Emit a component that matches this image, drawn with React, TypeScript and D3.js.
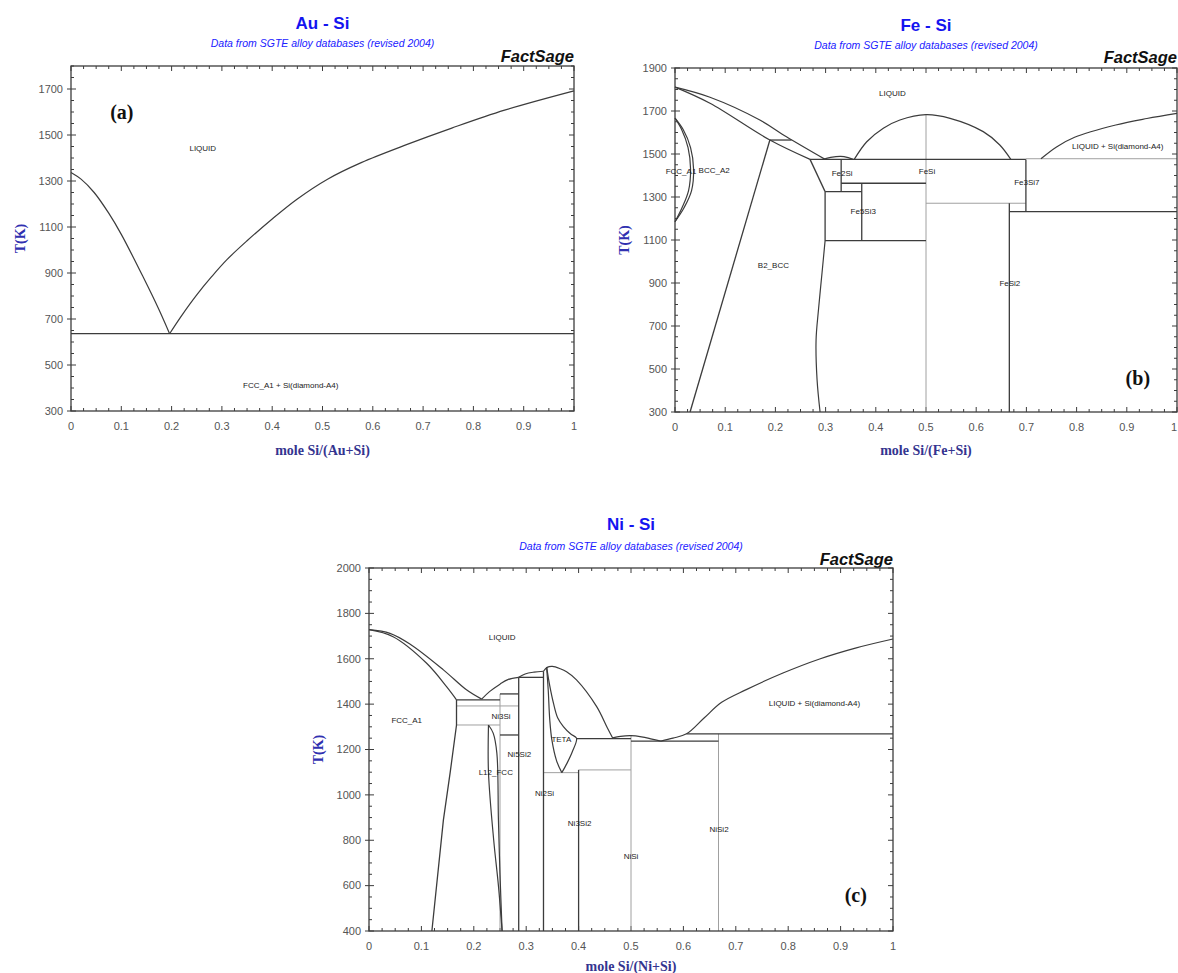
import React, { useEffect, useRef } from "react";
import * as d3 from "d3";

type Pt = [number, number];

// ==========================
// Au - Si  (a)
// ==========================
const auTTicks = [300, 500, 700, 900, 1100, 1300, 1500, 1700];
const auLiquidusLeft: Pt[] = [[0, 1337], [0.02, 1308], [0.046, 1250], [0.075, 1160], [0.1, 1068], [0.144, 880], [0.175, 740], [0.196, 636]];
const auLiquidusRight: Pt[] = [[0.196, 636], [0.22, 715], [0.25, 805], [0.28, 885], [0.31, 958], [0.35, 1040], [0.4, 1135], [0.45, 1222], [0.51, 1308], [0.577, 1380], [0.667, 1458], [0.757, 1530], [0.862, 1608], [1, 1692]];
const auEutectic: Pt[] = [[0, 636], [1, 636]];
const auLabels = [
    { text: "LIQUID", x: 0.262, t: 1443 },
    { text: "FCC_A1 + Si(diamond-A4)", x: 0.437, t: 413 }
];

// ==========================
// Fe - Si  (b)
// ==========================
const feTTicks = [300, 500, 700, 900, 1100, 1300, 1500, 1700, 1900];
const feLiquidus: Pt[] = [[0, 1811], [0.0697, 1764], [0.169, 1658], [0.222, 1580], [0.299, 1475]];
const feSolidus: Pt[] = [[0, 1811], [0.0697, 1736], [0.189, 1565], [0.269, 1475]];
const feGammaOuter: Pt[] = [[0, 1667], [0.016, 1615], [0.031, 1530], [0.037, 1430], [0.033, 1330], [0.018, 1250], [0, 1185]];
const feGammaInner: Pt[] = [[0, 1667], [0.013, 1615], [0.026, 1530], [0.031, 1430], [0.027, 1330], [0.014, 1250], [0, 1185]];
const feB2Line: Pt[] = [[0.03, 300], [0.189, 1565]];
const feB2Top: Pt[] = [[0.189, 1565], [0.232, 1565]];
const feB2Right: Pt[] = [[0.299, 1097], [0.293, 950], [0.286, 780], [0.281, 634], [0.283, 450], [0.289, 300]];
const feFe2SiBump: Pt[] = [[0.295, 1475], [0.31, 1484], [0.33, 1489], [0.345, 1483], [0.355, 1475]];
const feFeSiDome: Pt[] = [[0.357, 1475], [0.382, 1557], [0.415, 1620], [0.448, 1658], [0.5, 1683], [0.548, 1666], [0.614, 1604], [0.647, 1542], [0.669, 1475]];
const feSiLiquidus: Pt[] = [[0.729, 1478], [0.76, 1533], [0.796, 1578], [0.878, 1635], [0.94, 1665], [1, 1689]];
const feSegmentsDark: Pt[][] = [
    [[0.269, 1475], [0.299, 1325]],
    [[0.269, 1475], [0.699, 1475]],
    [[0.331, 1475], [0.331, 1325]],
    [[0.299, 1325], [0.372, 1325]],
    [[0.331, 1364], [0.5, 1364]],
    [[0.372, 1364], [0.372, 1097]],
    [[0.299, 1325], [0.299, 1097]],
    [[0.299, 1097], [0.5, 1097]],
    [[0.699, 1475], [0.699, 1232]],
    [[0.666, 1232], [1, 1232]],
    [[0.666, 1271], [0.666, 300]]
];
const feSegmentsLight: Pt[][] = [
    [[0.699, 1478], [1, 1478]],
    [[0.5, 1271], [0.699, 1271]],
    [[0.5, 1683], [0.5, 300]]
];
const feLabels = [
    { text: "LIQUID", x: 0.433, t: 1785 },
    { text: "FCC_A1", x: 0.012, t: 1418 },
    { text: "BCC_A2", x: 0.078, t: 1423 },
    { text: "Fe2Si", x: 0.333, t: 1413 },
    { text: "FeSi", x: 0.502, t: 1421 },
    { text: "Fe3Si7", x: 0.701, t: 1367 },
    { text: "Fe5Si3", x: 0.375, t: 1233 },
    { text: "B2_BCC", x: 0.196, t: 981 },
    { text: "FeSi2", x: 0.667, t: 901 },
    { text: "LIQUID + Si(diamond-A4)", x: 0.882, t: 1537 }
];

// ==========================
// Ni - Si  (c)
// ==========================
const niTTicks = [400, 600, 800, 1000, 1200, 1400, 1600, 1800, 2000];
const niLiquidusLeft: Pt[] = [[0, 1728], [0.04, 1712], [0.078, 1665], [0.142, 1551], [0.186, 1463], [0.215, 1422]];
const niSolidus: Pt[] = [[0, 1728], [0.046, 1697], [0.11, 1580], [0.148, 1477], [0.167, 1419]];
const niLiquidusNi5Si2: Pt[] = [[0.215, 1422], [0.23, 1455], [0.25, 1488], [0.265, 1508], [0.2857, 1518]];
const niNi2SiBump: Pt[] = [[0.2857, 1518], [0.298, 1533], [0.315, 1541], [0.333, 1545]];
const niDome: Pt[] = [[0.333, 1545], [0.34, 1562], [0.35, 1566], [0.365, 1556], [0.377, 1543], [0.396, 1507], [0.4345, 1389], [0.455, 1295], [0.465, 1251]];
const niNiSiDome: Pt[] = [[0.465, 1251], [0.48, 1258], [0.5, 1261], [0.52, 1256], [0.54, 1246], [0.557, 1237]];
const niLiquidusRight: Pt[] = [[0.557, 1237], [0.58, 1250], [0.606, 1269], [0.64, 1340], [0.673, 1408], [0.72, 1464], [0.79, 1537], [0.86, 1599], [0.93, 1648], [1, 1687]];
const niFccSolvus: Pt[] = [[0.167, 1419], [0.167, 1308], [0.155, 1100], [0.142, 890], [0.12, 400]];
const niL12Left: Pt[] = [[0.228, 1308], [0.228, 1100], [0.238, 800], [0.247, 600], [0.254, 400]];
const niL12Right: Pt[] = [[0.228, 1308], [0.237, 1272], [0.244, 1184], [0.247, 890], [0.25, 650], [0.254, 400]];
const niTetaLeft: Pt[] = [[0.339, 1563], [0.342, 1463], [0.345, 1330], [0.349, 1242], [0.358, 1150], [0.368, 1098]];
const niTetaRight: Pt[] = [[0.339, 1563], [0.345, 1480], [0.352, 1404], [0.36, 1340], [0.371, 1301], [0.385, 1268], [0.396, 1250], [0.388, 1190], [0.378, 1140], [0.368, 1098]];
const niSegmentsDark: Pt[][] = [
    [[0.167, 1419], [0.25, 1419]],
    [[0.25, 1445], [0.2857, 1445]],
    [[0.25, 1264], [0.2857, 1264]],
    [[0.2857, 1518], [0.2857, 400]],
    [[0.2857, 1518], [0.333, 1518]],
    [[0.333, 1545], [0.333, 400]],
    [[0.4, 1110], [0.4, 400]],
    [[0.396, 1248], [0.5, 1248]],
    [[0.5, 1237], [0.667, 1237]],
    [[0.606, 1269], [1, 1269]]
];
const niSegmentsLight: Pt[][] = [
    [[0.167, 1392], [0.2857, 1392]],
    [[0.167, 1308], [0.25, 1308]],
    [[0.25, 1445], [0.25, 400]],
    [[0.333, 1098], [0.4, 1098]],
    [[0.4, 1110], [0.5, 1110]],
    [[0.5, 1261], [0.5, 400]],
    [[0.667, 1269], [0.667, 400]]
];
const niLabels = [
    { text: "LIQUID", x: 0.254, t: 1695 },
    { text: "FCC_A1", x: 0.072, t: 1329 },
    { text: "Ni3Si", x: 0.252, t: 1347 },
    { text: "Ni5Si2", x: 0.287, t: 1178 },
    { text: "L12_FCC", x: 0.242, t: 1100 },
    { text: "TETA", x: 0.367, t: 1244 },
    { text: "Ni2Si", x: 0.335, t: 1009 },
    { text: "Ni3Si2", x: 0.402, t: 874 },
    { text: "NiSi", x: 0.5, t: 730 },
    { text: "NiSi2", x: 0.668, t: 847 },
    { text: "LIQUID + Si(diamond-A4)", x: 0.85, t: 1402 }
];

const DARK = "#3c3c3c";
const LIGHT = "#a0a0a0";
const SANS = "'Liberation Sans', Arial, sans-serif";
const SERIF = "'Liberation Serif', 'Times New Roman', serif";
const PAGE_W = 1178;

const panels = [
    {
        id: "a", title: "Au - Si", xTitle: "mole Si/(Au+Si)", tag: "(a)", tagAt: [0.101, 1600],
        frame: { left: 71, right: 574, top: 66, bottom: 411 }, tMin: 300, tMax: 1800, tTicks: auTTicks,
        titleY: 29, subY: 47, factY: 62, xTitleY: 455,
        curves: [auLiquidusLeft, auLiquidusRight],
        dark: [auEutectic], light: [], labels: auLabels
    },
    {
        id: "b", title: "Fe - Si", xTitle: "mole Si/(Fe+Si)", tag: "(b)", tagAt: [0.922, 458],
        frame: { left: 675, right: 1177, top: 68, bottom: 412 }, tMin: 300, tMax: 1900, tTicks: feTTicks,
        titleY: 31, subY: 49, factY: 63, xTitleY: 455,
        curves: [feLiquidus, feSolidus, feGammaOuter, feGammaInner, feB2Right, feFe2SiBump, feFeSiDome, feSiLiquidus],
        dark: [feB2Line, feB2Top, ...feSegmentsDark], light: feSegmentsLight, labels: feLabels
    },
    {
        id: "c", title: "Ni - Si", xTitle: "mole Si/(Ni+Si)", tag: "(c)", tagAt: [0.929, 560],
        frame: { left: 369, right: 893, top: 568, bottom: 931 }, tMin: 400, tMax: 2000, tTicks: niTTicks,
        titleY: 530, subY: 550, factY: 565, xTitleY: 971,
        curves: [niLiquidusLeft, niSolidus, niLiquidusNi5Si2, niNi2SiBump, niDome, niNiSiDome, niLiquidusRight, niL12Left, niL12Right, niTetaLeft, niTetaRight],
        dark: [niFccSolvus, ...niSegmentsDark], light: niSegmentsLight, labels: niLabels
    }
];

function drawPanel(g, p) {
    const { frame } = p;
    const x = d3.scaleLinear().domain([0, 1]).range([frame.left, frame.right]);
    const y = d3.scaleLinear().domain([p.tMin, p.tMax]).range([frame.bottom, frame.top]);
    const cx = (frame.left + frame.right) / 2;

    // titles
    g.append("text").attr("x", cx).attr("y", p.titleY).attr("text-anchor", "middle")
        .attr("font-family", SANS).attr("font-weight", "bold").attr("font-size", 17)
        .attr("fill", "#1414f0").text(p.title);
    g.append("text").attr("x", cx).attr("y", p.subY).attr("text-anchor", "middle")
        .attr("font-family", SANS).attr("font-style", "italic").attr("font-size", 10.5)
        .attr("fill", "#2020ff").text("Data from SGTE alloy databases (revised 2004)");
    g.append("text").attr("x", frame.right).attr("y", p.factY).attr("text-anchor", "end")
        .attr("font-family", SANS).attr("font-style", "italic").attr("font-weight", "bold")
        .attr("font-size", 16.5).attr("fill", "#111").text("FactSage");

    // ticks
    const ticks = g.append("g").attr("stroke", DARK).attr("stroke-width", 1);
    const minorX = d3.range(0, 1.0001, 0.025);
    const majorX = d3.range(0, 1.0001, 0.1);
    minorX.forEach(v => {
        const major = majorX.some(m => Math.abs(m - v) < 1e-6);
        const len = major ? 5 : 3;
        ticks.append("line").attr("x1", x(v)).attr("x2", x(v)).attr("y1", frame.bottom).attr("y2", frame.bottom - len);
        ticks.append("line").attr("x1", x(v)).attr("x2", x(v)).attr("y1", frame.top).attr("y2", frame.top + len);
    });
    d3.range(p.tMin, p.tMax + 1, 50).forEach(v => {
        const major = p.tTicks.includes(v);
        const len = major ? 5 : 3;
        ticks.append("line").attr("x1", frame.left - (major ? 4 : 0)).attr("x2", frame.left + len).attr("y1", y(v)).attr("y2", y(v));
        ticks.append("line").attr("x1", frame.right).attr("x2", frame.right - len).attr("y1", y(v)).attr("y2", y(v));
    });

    // tick labels
    g.append("g").selectAll("text").data(p.tTicks).enter().append("text")
        .attr("x", frame.left - 8).attr("y", d => y(d)).attr("dy", "0.35em").attr("text-anchor", "end")
        .attr("font-family", SANS).attr("font-size", 11).attr("fill", "#555").text(d => d);
    g.append("g").selectAll("text").data(majorX).enter().append("text")
        .attr("x", d => Math.min(x(d), PAGE_W - 1)).attr("y", frame.bottom + 19)
        .attr("text-anchor", d => (x(d) + 4 > PAGE_W ? "end" : "middle"))
        .attr("font-family", SANS).attr("font-size", 11).attr("fill", "#555")
        .text(d => (d < 1e-6 ? "0" : d > 0.9999 ? "1" : d.toFixed(1)));

    // axis titles
    g.append("text").attr("x", cx).attr("y", p.xTitleY).attr("text-anchor", "middle")
        .attr("font-family", SERIF).attr("font-weight", "bold").attr("font-size", 14)
        .attr("fill", "#34348f").text(p.xTitle);
    g.append("text")
        .attr("transform", `translate(${frame.left - 46}, ${(frame.top + frame.bottom) / 2}) rotate(-90)`)
        .attr("text-anchor", "middle")
        .attr("font-family", SERIF).attr("font-weight", "bold").attr("font-size", 14)
        .attr("fill", "#3030b0").text("T(K)");

    // phase boundaries
    const smooth = d3.line().x(d => x(d[0])).y(d => y(d[1])).curve(d3.curveCatmullRom.alpha(0.5));
    const straight = d3.line().x(d => x(d[0])).y(d => y(d[1]));

    g.append("g").selectAll("path").data(p.light).enter().append("path")
        .attr("d", straight).attr("fill", "none").attr("stroke", LIGHT).attr("stroke-width", 1);
    g.append("g").selectAll("path").data(p.dark).enter().append("path")
        .attr("d", straight).attr("fill", "none").attr("stroke", DARK).attr("stroke-width", 1.3);
    g.append("g").selectAll("path").data(p.curves).enter().append("path")
        .attr("d", smooth).attr("fill", "none").attr("stroke", DARK).attr("stroke-width", 1.2);

    // frame
    g.append("rect").attr("x", frame.left).attr("y", frame.top)
        .attr("width", frame.right - frame.left).attr("height", frame.bottom - frame.top)
        .attr("fill", "none").attr("stroke", DARK).attr("stroke-width", 1.3);

    // region labels
    g.append("g").selectAll("text").data(p.labels).enter().append("text")
        .attr("x", d => x(d.x)).attr("y", d => y(d.t)).attr("dy", "0.35em").attr("text-anchor", "middle")
        .attr("font-family", SANS).attr("font-size", 8).attr("fill", "#222").text(d => d.text);

    // panel tag
    g.append("text").attr("x", x(p.tagAt[0])).attr("y", y(p.tagAt[1])).attr("dy", "0.35em")
        .attr("text-anchor", "middle").attr("font-family", SERIF).attr("font-weight", "bold")
        .attr("font-size", 20).attr("fill", "#111").text(p.tag);
}

export default function App() {
    const ref = useRef(null);

    useEffect(() => {
        const svg = d3.select(ref.current);
        svg.selectAll("*").remove();
        panels.forEach(p => drawPanel(svg.append("g"), p));
    }, []);

    return (
        <div style={{ position: "absolute", left: 0, top: 0, background: "#fff" }}>
            <svg ref={ref} width={PAGE_W} height={973} style={{ display: "block" }} />
        </div>
    );
}
